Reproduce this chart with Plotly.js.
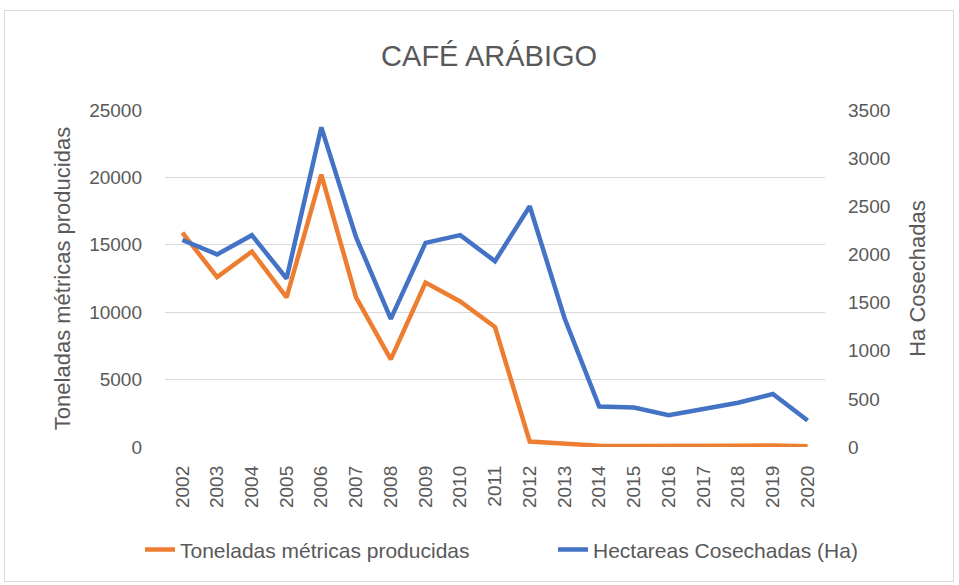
<!DOCTYPE html>
<html>
<head>
<meta charset="utf-8">
<script src="https://cdn.plot.ly/plotly-3.0.1.min.js"></script>
<style>
html,body{margin:0;padding:0;background:#fff;}
#frame{position:absolute;left:4px;top:10px;width:950px;height:572px;border:1px solid #d9d9d9;box-sizing:border-box;}
#chart{position:absolute;left:0;top:0;width:959px;height:585px;}
</style>
</head>
<body>
<div id="frame"></div>
<div id="chart"></div>
<script>
const years = ["2002","2003","2004","2005","2006","2007","2008","2009","2010","2011","2012","2013","2014","2015","2016","2017","2018","2019","2020"];
const toneladas = [15900,12600,14500,11100,20200,11100,6500,12200,10800,8900,400,250,100,70,60,100,100,120,60];
const hectareas = [2150,2000,2200,1750,3320,2180,1330,2120,2200,1930,2500,1340,420,410,330,400,460,550,275];
const seriesNames = ["Toneladas métricas producidas","Hectareas Cosechadas (Ha)"];
const font = "Liberation Sans, Arial, sans-serif";
const grey = "#595959";

const data = [
  {x: years, y: toneladas, name: seriesNames[0], type: "scatter", mode: "lines",
   line: {color: "#ED7D31", width: 4.5}, yaxis: "y", legend: "legend"},
  {x: years, y: hectareas, name: seriesNames[1], type: "scatter", mode: "lines",
   line: {color: "#4472C4", width: 4.5}, yaxis: "y2", legend: "legend2"}
];
const legendBase = {orientation: "h", xref: "container", yref: "container", xanchor: "left", y: 0.06, yanchor: "middle",
                    font: {size: 21, color: grey}, bgcolor: "rgba(0,0,0,0)"};
const layout = {
  width: 959, height: 585,
  paper_bgcolor: "rgba(0,0,0,0)", plot_bgcolor: "rgba(0,0,0,0)",
  margin: {l: 165, r: 134, t: 110, b: 138},
  font: {family: font, color: grey, size: 19},
  title: {text: "CAFÉ ARÁBIGO", font: {family: font, size: 29, color: grey}, x: 0.51, xanchor: "center", y: 0.905, yanchor: "middle"},
  showlegend: true,
  legend: Object.assign({}, legendBase, {x: 140/959}),
  legend2: Object.assign({}, legendBase, {x: 553/959}),
  xaxis: {type: "category", range: [-0.5, 18.5], automargin: false, tickangle: -90, showgrid: false, zeroline: false, showline: false, ticks: "", tickfont: {size: 19, color: grey}, ticklabelstandoff: 14},
  yaxis: {range: [0, 25000], dtick: 5000, tickmode: "linear", tickformat: "d", automargin: false, gridcolor: "#D9D9D9", gridwidth: 1.3, zeroline: false, showline: false, ticks: "", tickfont: {size: 19, color: grey}, ticklabelstandoff: 22,
          title: {text: "Toneladas métricas producidas", font: {size: 22, color: grey}, standoff: 12}},
  yaxis2: {range: [0, 3500], dtick: 500, tickmode: "linear", tickformat: "d", automargin: false, overlaying: "y", side: "right", showgrid: false, zeroline: false, showline: false, ticks: "", tickfont: {size: 19, color: grey}, ticklabelstandoff: 22,
          title: {text: "Ha Cosechadas", font: {size: 22, color: grey}, standoff: 20}}
};
Plotly.newPlot("chart", data, layout, {displayModeBar: false, staticPlot: true});
</script>
</body>
</html>
